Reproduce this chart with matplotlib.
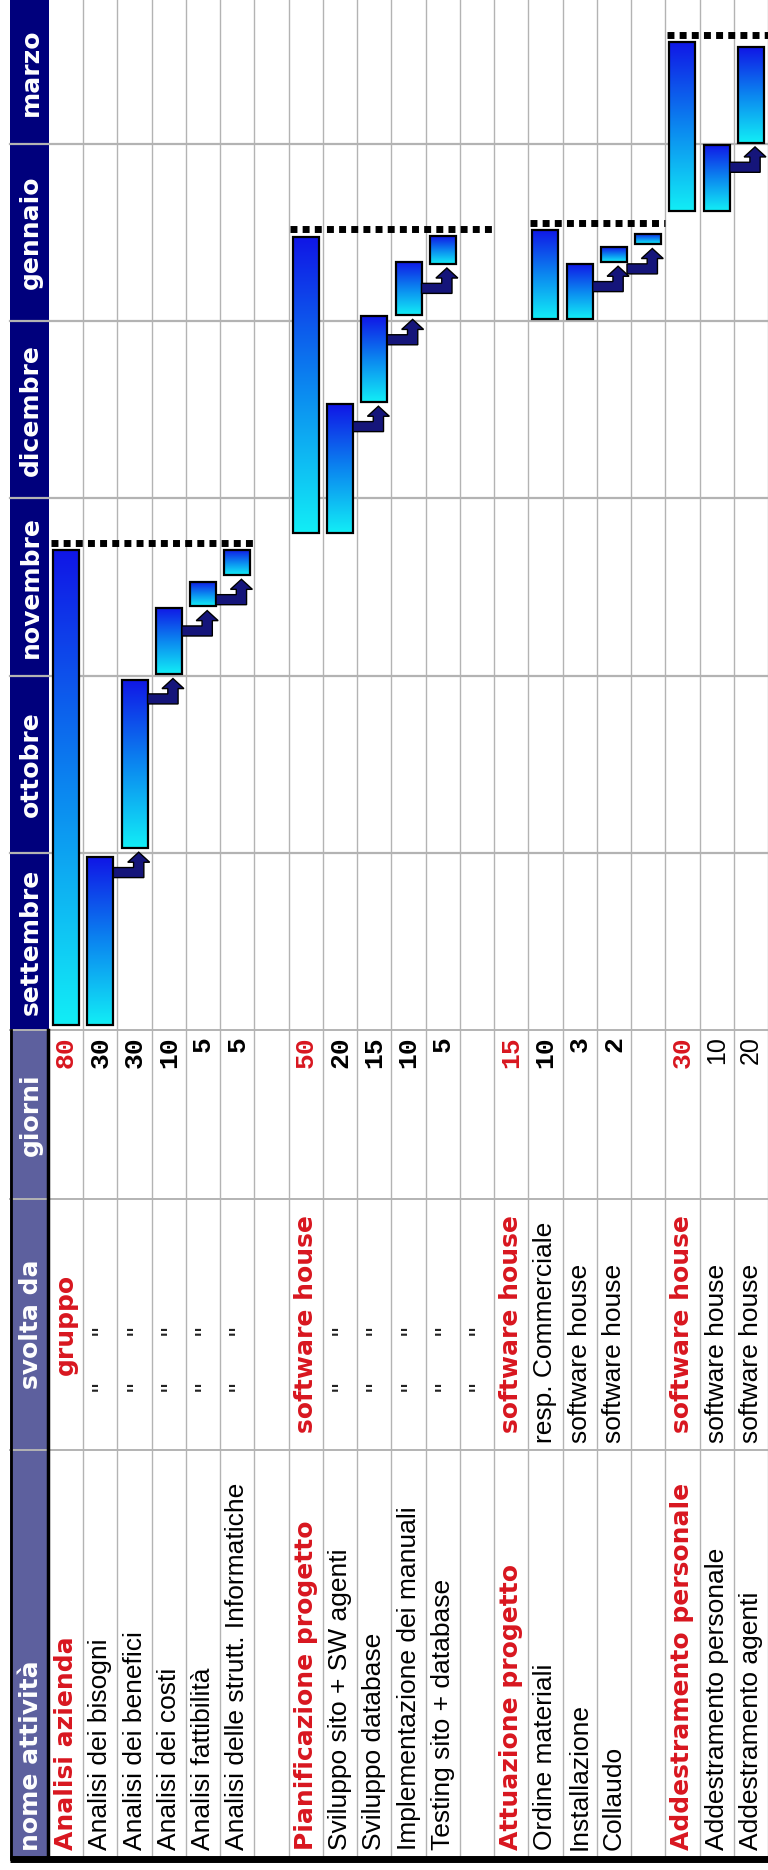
import matplotlib
matplotlib.use("Agg")
import matplotlib.pyplot as plt
import numpy as np
from matplotlib import transforms
from matplotlib.colors import LinearSegmentedColormap
from matplotlib.patches import Rectangle, Polygon

# ---------------- data ----------------
attivita = ["Analisi azienda", "Analisi dei bisogni", "Analisi dei benefici", "Analisi dei costi",
            "Analisi fattibilità", "Analisi delle strutt. Informatiche", "",
            "Pianificazione progetto", "Sviluppo sito + SW agenti", "Sviluppo database",
            "Implementazione dei manuali", "Testing sito + database", "",
            "Attuazione progetto", "Ordine materiali", "Installazione", "Collaudo", "",
            "Addestramento personale", "Addestramento personale", "Addestramento agenti"]
svolta_da = ["gruppo", '"', '"', '"', '"', '"', "",
             "software house", '"', '"', '"', '"', '"',
             "software house", "resp. Commerciale", "software house", "software house", "",
             "software house", "software house", "software house"]
giorni = ["80", "30", "30", "10", "5", "5", "",
          "50", "20", "15", "10", "5", "",
          "15", "10", "3", "2", "",
          "30", "10", "20"]
riga_gruppo = [0, 7, 13, 18]
intestazioni = ["nome attività", "svolta da", "giorni"]
mesi = ["settembre", "ottobre", "novembre", "dicembre", "gennaio", "marzo"]
mesi_inizio = [0, 30, 60, 90, 120, 150]          # days from 1 September

# Gantt bars (row where drawn, start day, end day)
bar_riga = [0, 1, 2, 3, 4, 5, 7, 8, 9, 10, 11, 14, 15, 16, 17, 18, 19, 20]
bar_inizio = [0.9, 0.9, 30.8, 60.2, 71.7, 77.0, 84.2, 84.2, 106.3, 121.0, 129.7,
              120.3, 120.3, 130.0, 133.0, 138.6, 138.6, 150.2]
bar_fine = [81.2, 29.3, 59.3, 71.5, 75.8, 81.3, 134.3, 105.9, 120.8, 130.0, 134.4,
            135.4, 129.7, 132.5, 134.7, 167.3, 149.8, 166.4]
gruppi_bar = [[0, 1, 2, 3, 4, 5], [6, 7, 8, 9, 10], [11, 12, 13, 14], [15, 16, 17]]
tratteggio_righe = [(0, 6), (7, 13), (14, 18), (18, 21)]
collegamenti = [(1, 2), (2, 3), (3, 4), (4, 5), (7, 8), (8, 9), (9, 10),
                (12, 13), (13, 14), (16, 17)]

# ---------------- layout ----------------
W, H = 768, 1870
N_RIGHE = len(attivita)
X_HEAD0, X_HEAD1 = 10, 49
ROW_H = 34.24
PX_DAY = 5.907
Y_DAY0 = 1030           # pixel of day 0
Y_GIORNI_END = 1199
Y_SVOLTA_END = 1450
Y_BOTTOM = 1859

RED = "#d8161f"
SLATE = "#5d609e"
NAVY = "#00007c"
GRID = "#b3b3b3"

fig = plt.figure(figsize=(W / 100, H / 100), dpi=100)
ax = fig.add_axes([0, 0, 1, 1])
ax.set_xlim(0, W)
ax.set_ylim(H, 0)
ax.axis("off")

gx = fig.add_axes([X_HEAD1 / W, (H - Y_DAY0) / H, N_RIGHE * ROW_H / W, Y_DAY0 / H])
gx.set_xlim(0, N_RIGHE)
gx.set_ylim(0, Y_DAY0 / PX_DAY)
gx.axis("off")
gx.patch.set_alpha(0)

tr_row = transforms.blended_transform_factory(gx.transData, ax.transData)   # x = row, y = px
tr_day = transforms.blended_transform_factory(ax.transData, gx.transData)   # x = px, y = day

# header band
ax.add_patch(Rectangle((X_HEAD0, Y_DAY0), X_HEAD1 - X_HEAD0, Y_BOTTOM - Y_DAY0,
                       facecolor=SLATE, edgecolor="none", zorder=1))
ax.add_patch(Rectangle((X_HEAD0, 0), X_HEAD1 - X_HEAD0, Y_DAY0,
                       facecolor=NAVY, edgecolor="none", zorder=1))

# grid: row lines
for i in range(1, N_RIGHE + 1):
    ax.plot([i, i], [0, Y_BOTTOM], color=GRID, lw=1.0, transform=tr_row, zorder=2,
            clip_on=False)
# column separators
for yy in [Y_DAY0, Y_GIORNI_END, Y_SVOLTA_END]:
    ax.plot([X_HEAD0, W], [yy, yy], color=GRID, lw=1.4, zorder=2)
for d in mesi_inizio[1:]:
    ax.plot([X_HEAD0, W], [d, d], color=GRID, lw=1.6, transform=tr_day, zorder=2)

# borders
ax.plot([X_HEAD1 - 1.5, X_HEAD1 - 1.5], [Y_DAY0, Y_BOTTOM], color="black", lw=2.5, zorder=3)
ax.plot([X_HEAD0 + 1, X_HEAD0 + 1], [Y_DAY0, Y_BOTTOM], color="black", lw=2.0, zorder=3)
ax.plot([X_HEAD0, W], [Y_BOTTOM, Y_BOTTOM], color="black", lw=5, zorder=3,
        solid_capstyle="butt")

# header texts
xh = (X_HEAD0 + X_HEAD1) / 2 + 1
hfont = dict(family="DejaVu Sans", weight="bold", size=18, color="white",
             rotation=90, rotation_mode="anchor", va="center", zorder=5)
ax.text(xh, Y_BOTTOM - 8, intestazioni[0], ha="left", **hfont)
ax.text(xh, (Y_GIORNI_END + Y_SVOLTA_END) / 2, intestazioni[1], ha="center", **hfont)
ax.text(xh, (Y_DAY0 + Y_GIORNI_END) / 2, intestazioni[2], ha="center", **hfont)
top_day = Y_DAY0 / PX_DAY
for k, m in enumerate(mesi):
    d0 = mesi_inizio[k]
    d1 = mesi_inizio[k + 1] if k + 1 < len(mesi) else top_day
    ax.text(xh, (d0 + d1) / 2, m, ha="center", transform=tr_day, **hfont)

# table texts
for i in range(N_RIGHE):
    xc = i + 0.5
    grp = i in riga_gruppo
    if attivita[i]:
        if grp:
            ax.text(xc, Y_BOTTOM - 9, attivita[i], transform=tr_row, family="DejaVu Sans",
                    weight="bold", size=18, color=RED, rotation=90, rotation_mode="anchor",
                    ha="left", va="center", zorder=5)
        else:
            ax.text(xc, Y_BOTTOM - 9, attivita[i], transform=tr_row, family="Liberation Sans",
                    size=19, color="black", rotation=90, rotation_mode="anchor",
                    ha="left", va="center", zorder=5)
    s = svolta_da[i]
    if s == '"':
        for yy in (1330, 1386):
            ax.text(xc + 0.08, yy, s, transform=tr_row, family="Liberation Sans", size=19,
                    color="#222222", rotation=90, rotation_mode="anchor",
                    ha="center", va="center", zorder=5)
    elif s:
        if grp:
            ax.text(xc, (Y_GIORNI_END + Y_SVOLTA_END) / 2, s, transform=tr_row,
                    family="DejaVu Sans", weight="bold", size=18, color=RED, rotation=90,
                    rotation_mode="anchor", ha="center", va="center", zorder=5)
        else:
            ax.text(xc, Y_SVOLTA_END - 7, s, transform=tr_row, family="Liberation Sans",
                    size=19, color="black", rotation=90, rotation_mode="anchor",
                    ha="left", va="center", zorder=5)
    g = giorni[i]
    if g:
        if i >= 19:
            ax.text(xc, Y_DAY0 + 6, g, transform=tr_row, family="Liberation Sans",
                    size=18, color="black", rotation=90, rotation_mode="anchor",
                    ha="right", va="center", zorder=5)
        else:
            ax.text(xc, Y_DAY0 + 6, g, transform=tr_row, family="Liberation Mono",
                    weight="bold", size=19, color=RED if grp else "black", rotation=90,
                    rotation_mode="anchor", ha="right", va="center", zorder=5)

# ---------------- Gantt ----------------
cmap = LinearSegmentedColormap.from_list("bar", ["#12eef6", "#0b86f0", "#1016e6"])
grad = np.linspace(0, 1, 256).reshape(-1, 1)
BX0, BX1 = 0.12, 0.88
for r, s, e in zip(bar_riga, bar_inizio, bar_fine):
    gx.imshow(grad, extent=[r + BX0, r + BX1, s, e], origin="lower", aspect="auto",
              cmap=cmap, interpolation="bilinear", zorder=3)
    gx.add_patch(Rectangle((r + BX0, s), BX1 - BX0, e - s, fill=False,
                           edgecolor="black", lw=1.6, zorder=4))

# dotted group lines
for bars, (r0, r1) in zip(gruppi_bar, tratteggio_righe):
    level = max(bar_fine[b] for b in bars) + 1.2
    gx.plot([r0 + 0.05, r1], [level, level], color="black", lw=5,
            linestyle=(0, (1.0, 0.75)), dash_capstyle="butt", zorder=5)

# elbow arrows
for a, b in collegamenti:
    sx = bar_riga[a] + BX1
    cx = bar_riga[b] + 0.62
    tb = bar_inizio[b]
    tip, hb, at, ab = tb - 0.7, tb - 2.4, tb - 3.3, tb - 5.0
    sw, hw = 0.15, 0.32
    pts = [(sx, at), (cx - sw, at), (cx - sw, hb), (cx - hw, hb), (cx, tip),
           (cx + hw, hb), (cx + sw, hb), (cx + sw, ab), (sx, ab)]
    gx.add_patch(Polygon(pts, closed=True, facecolor="#15157a", edgecolor="black",
                         lw=1.0, zorder=6))

gx.set_xlim(0, N_RIGHE)
gx.set_ylim(0, Y_DAY0 / PX_DAY)

fig.savefig("out.png", dpi=100)
